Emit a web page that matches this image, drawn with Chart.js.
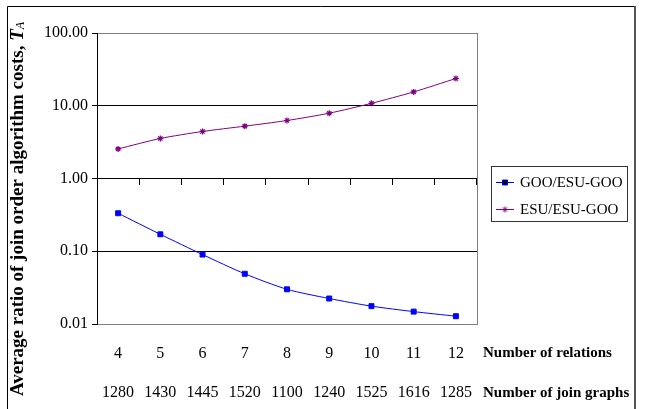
<!DOCTYPE html>
<html>
<head>
<meta charset="utf-8">
<script src="https://cdn.jsdelivr.net/npm/chart.js@4/dist/chart.umd.min.js"></script>
<style>
  html, body { margin:0; padding:0; background:#fff; }
  #wrap { position:relative; width:650px; height:409px; }
</style>
</head>
<body>
<div id="wrap"><canvas id="c" width="650" height="409"></canvas></div>
<script>
const relations  = ['4','5','6','7','8','9','10','11','12'];
const joinGraphs = ['1280','1430','1445','1520','1100','1240','1525','1616','1285'];
const gooRatio   = [0.333, 0.171, 0.090, 0.049, 0.030, 0.0224, 0.0176, 0.0148, 0.0128];
const esuRatio   = [2.55, 3.55, 4.43, 5.24, 6.27, 7.9, 10.8, 15.5, 23.7];
const yTicks     = [0.01, 0.1, 1, 10, 100];
const seriesNames = ['GOO/ESU-GOO', 'ESU/ESU-GOO'];
const rowTitles   = ['Number of relations', 'Number of join graphs'];

const SERIF = '"Liberation Serif", "Times New Roman", serif';
const BLUE = '#0000ff', PURPLE = '#800080';

// frame, title, legend and row captions
const decor = {
  id: 'decor',
  beforeDatasetsDraw(chart) {
    const { ctx, chartArea: a } = chart;
    ctx.save();
    ctx.strokeStyle = '#808080'; ctx.lineWidth = 1;
    ctx.beginPath(); ctx.moveTo(a.right + 0.5, a.top); ctx.lineTo(a.right + 0.5, a.bottom); ctx.stroke();
    ctx.restore();
  },
  afterDraw(chart) {
    const { ctx, chartArea: a } = chart;
    const xs = chart.scales.x;
    ctx.save();
    // outer frame
    ctx.strokeStyle = '#000'; ctx.lineWidth = 1;
    ctx.beginPath(); ctx.moveTo(7.5, 409); ctx.lineTo(7.5, 6.5); ctx.lineTo(634, 6.5); ctx.stroke();
    ctx.strokeStyle = '#555'; ctx.lineWidth = 2;
    ctx.beginPath(); ctx.moveTo(635, 6); ctx.lineTo(635, 409); ctx.stroke();

    // y title with italic T_A
    ctx.translate(18, 209);
    ctx.rotate(-Math.PI / 2);
    ctx.fillStyle = '#000';
    ctx.textBaseline = 'middle';
    const main = 'Average ratio of join order algorithm costs, ';
    ctx.font = 'bold 19px ' + SERIF;
    const w1 = ctx.measureText(main).width;
    ctx.font = 'bold italic 19px ' + SERIF;
    const w2 = ctx.measureText('T').width;
    ctx.font = 'italic 12px ' + SERIF;
    const w3 = ctx.measureText('A').width;
    let x0 = -(w1 + w2 + w3) / 2;
    ctx.textAlign = 'left';
    ctx.font = 'bold 19px ' + SERIF; ctx.fillText(main, x0, 0);
    ctx.font = 'bold italic 19px ' + SERIF; ctx.fillText('T', x0 + w1, 0);
    ctx.font = 'italic 12px ' + SERIF; ctx.fillText('A', x0 + w1 + w2, 3);
    ctx.setTransform(1, 0, 0, 1, 0, 0);

    // row captions to the right of the plot
    ctx.font = 'bold 15px ' + SERIF;
    ctx.textAlign = 'left'; ctx.textBaseline = 'middle';
    const lh = Chart.helpers.toFont(xs.options.ticks.font).lineHeight;
    rowTitles.forEach((t, i) => ctx.fillText(t, a.right + 6, xs.top + xs.options.ticks.padding + lh * (i + 0.5)));

    // legend box
    const lx = 491, ly = 166, lw = 136, lhh = 55;
    ctx.strokeStyle = '#333'; ctx.lineWidth = 1;
    ctx.strokeRect(lx + 0.5, ly + 0.5, lw, lhh);
    ctx.font = '15px ' + SERIF;
    chart.data.datasets.forEach((ds, i) => {
      const yy = ly + 16 + i * 27;
      ctx.strokeStyle = ds.borderColor; ctx.lineWidth = 1;
      ctx.beginPath(); ctx.moveTo(lx + 5, yy + 0.5); ctx.lineTo(lx + 23, yy + 0.5); ctx.stroke();
      Chart.helpers.drawPoint(ctx, { pointStyle: ds.pointStyle, radius: ds.pointRadius, borderWidth: 1 }, lx + 14, yy + 0.5);
      ctx.fillStyle = '#000';
      ctx.fillText(ds.label, lx + 29, yy + 1);
    });
    ctx.restore();
  }
};

new Chart(document.getElementById('c'), {
  type: 'line',
  data: {
    labels: relations.map((r, i) => [r, joinGraphs[i]]),
    datasets: [
      { label: seriesNames[0], data: gooRatio, borderColor: BLUE, backgroundColor: BLUE,
        borderWidth: 1, pointStyle: 'rect', pointRadius: 3.5, pointBorderWidth: 1, tension: 0.25 },
      { label: seriesNames[1], data: esuRatio, borderColor: PURPLE, backgroundColor: PURPLE,
        borderWidth: 1, pointStyle: 'star', pointRadius: 3, pointBorderWidth: 1.2, tension: 0.25 }
    ]
  },
  options: {
    responsive: false, animation: false, devicePixelRatio: 1,
    layout: { padding: { top: 33, right: 173, left: 0, bottom: 0 } },
    plugins: { legend: { display: false }, tooltip: { enabled: false } },
    scales: {
      x: {
        offset: true,
        grid: { display: false, drawTicks: false },
        border: { color: '#808080' },
        ticks: { color: '#000', padding: 10, maxRotation: 0, autoSkip: false,
                 font: { family: SERIF, size: 16, lineHeight: 2.45 } },
        afterFit: s => { s.height = 85; }
      },
      xCross: {
        type: 'category', axis: 'x', position: { y: 1 }, offset: true,
        grid: { offset: true, drawOnChartArea: false, tickLength: 6, color: '#000' },
        border: { color: '#000' },
        ticks: { display: false }
      },
      y: {
        type: 'logarithmic', min: 0.01, max: 100,
        afterBuildTicks: s => { s.ticks = yTicks.map(v => ({ value: v })); },
        grid: {
          color: c => (c.tick && (c.tick.value === 100 || c.tick.value === 0.01)) ? '#808080' : '#000',
          tickColor: '#000', tickLength: 5
        },
        border: { color: '#000' },
        ticks: { color: '#000', padding: 4, font: { family: SERIF, size: 16 },
                 callback: v => Number(v).toFixed(2) },
        afterFit: s => { s.width = 97; }
      }
    }
  },
  plugins: [decor]
});
</script>
</body>
</html>
